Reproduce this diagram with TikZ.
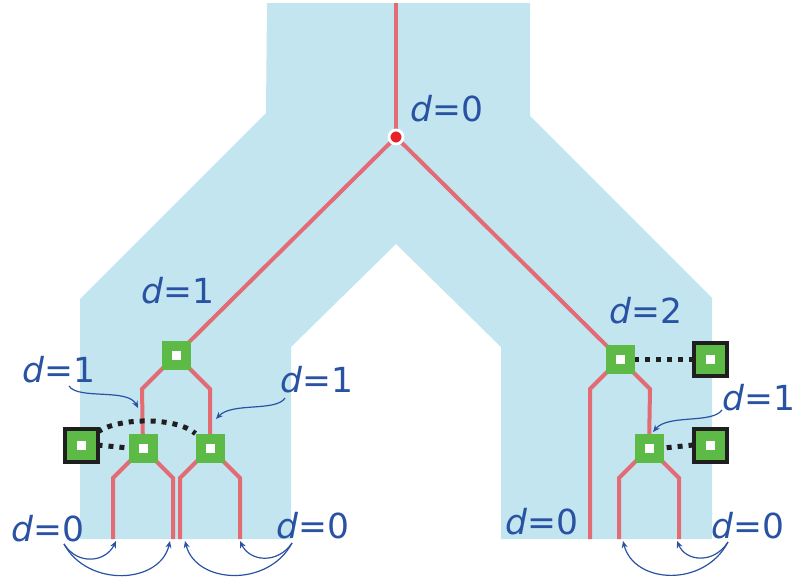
\documentclass[tikz,border=0pt]{standalone}
\usepackage{fontspec}
\setmainfont{DejaVu Sans}
\usetikzlibrary{arrows.meta,backgrounds}
\definecolor{bg}{HTML}{C2E5F0}
\definecolor{wirec}{HTML}{E36B74}
\definecolor{sqc}{HTML}{5DBA47}
\definecolor{lblc}{HTML}{2A52A3}
\definecolor{dotc}{HTML}{E8202A}
\begin{document}
\begin{tikzpicture}[x=1pt,y=-1pt,
  wire/.style={draw=wirec,line width=4pt,line join=miter},
  gsq/.style={fill=sqc,minimum size=29pt,inner sep=0pt,outer sep=0pt,
    path picture={\fill[white] ([xshift=-4.5pt,yshift=-4.5pt]path picture bounding box.center) rectangle ++(9pt,9pt);}},
  bsq/.style={fill=sqc,draw=black!88,line width=4pt,minimum size=33pt,inner sep=0pt,outer sep=0pt,
    path picture={\fill[white] ([xshift=-4.5pt,yshift=-4.5pt]path picture bounding box.center) rectangle ++(9pt,9pt);}},
  rootdot/.style={circle,fill=dotc,draw=white,line width=2.8pt,minimum size=14pt,inner sep=0pt},
  lbl/.style={text=lblc,font=\fontsize{34.5}{40}\selectfont,anchor=base west,inner sep=0pt},
  dots/.style={draw=black!88,line width=5pt,dash pattern=on 5pt off 6pt},
  arr/.style={draw=lblc,line width=1.2pt,-{Stealth[length=7pt,width=6pt]}}]
\useasboundingbox (0,0) rectangle (797,581);

% nodes
\node[rootdot] (R) at (396,137) {};
\node[gsq] (L) at (176,355) {};
\node[gsq] (LA) at (143,448) {};
\node[gsq] (LB) at (210,448) {};
\node[bsq] (BL) at (81,445) {};
\node[gsq] (RT) at (620,359) {};
\node[gsq] (RB) at (649,448) {};
\node[bsq] (BR1) at (710,359) {};
\node[bsq] (BR2) at (710,445) {};
\coordinate (top) at (396,3);

\begin{scope}[on background layer]
  \fill[bg] (267,3) -- (530,3) -- (530,116) -- (712,298) -- (712,539) -- (501,539)
    -- (501,347) -- (396,244) -- (291,347) -- (291,539) -- (80,539) -- (80,299)
    -- (266,113) -- cycle;
  \draw[wire] (top) -- (R.center);
  \draw[wire] (R.center) -- (L.center);
  \draw[wire] (R.center) -- (RT.center);
  \draw[wire] (L.center) -- ++(-34,34) -- (LA.center);
  \draw[wire] (L.center) -- ++(34,34) -- (LB.center);
  \draw[wire] (LA.center) -- ++(-30,30) -- ++(0,61);
  \draw[wire] (LA.center) -- ++(30,30) -- ++(0,61);
  \draw[wire] (LB.center) -- ++(-30,30) -- ++(0,61);
  \draw[wire] (LB.center) -- ++(30,30) -- ++(0,61);
  \draw[wire] (RT.center) -- ++(-30,30) -- ++(0,150);
  \draw[wire] (RT.center) -- ++(30,30) -- (RB.center);
  \draw[wire] (RB.center) -- ++(-30,30) -- ++(0,61);
  \draw[wire] (RB.center) -- ++(30,30) -- ++(0,61);
  \draw[dots] (BL.east) -- (LA.west);
  \draw[dots] ([yshift=13pt]BL.east) .. controls (120,417) and (176,417) .. (LB.north west);
  \draw[dots] (BR1.west) -- (RT.east);
  \draw[dots] (BR2.west) -- (RB.east);
\end{scope}

% labels
\node[lbl] (t0) at (410,121) {{\itshape d}=0};
\node[lbl] (t1) at (141,303) {{\itshape d}=1};
\node[lbl] (t2) at (609,323) {{\itshape d}=2};
\node[lbl] (t3) at (22,382) {{\itshape d}=1};
\node[lbl] (t4) at (280,392) {{\itshape d}=1};
\node[lbl] (t5) at (722,410) {{\itshape d}=1};
\node[lbl] (t6) at (11,541) {{\itshape d}=0};
\node[lbl] (t7) at (276,538) {{\itshape d}=0};
\node[lbl] (t8) at (505,534) {{\itshape d}=0};
\node[lbl] (t9) at (711,538) {{\itshape d}=0};

% arrow end points
\coordinate (s3) at (69,386);  \coordinate (e3) at (138,408);
\coordinate (s4) at (285,398); \coordinate (e4) at (216,419);
\coordinate (s5) at (722,410); \coordinate (e5) at (653,432);
\coordinate (s6) at (64,544);  \coordinate (e6a) at (116,541); \coordinate (e6b) at (170,541);
\coordinate (s7) at (292,543); \coordinate (e7a) at (240,541); \coordinate (e7b) at (185,541);
\coordinate (s9) at (728,542); \coordinate (e9a) at (677,541); \coordinate (e9b) at (623,541);

\draw[arr] (s3) .. controls (78,400) and (128,388) .. (e3);
\draw[arr] (s4) .. controls (276,412) and (232,402) .. (e4);
\draw[arr] (s5) .. controls (712,424) and (668,414) .. (e5);
\draw[arr] (s6) .. controls (78,566) and (106,562) .. (e6a);
\draw[arr] (s6) .. controls (88,588) and (160,584) .. (e6b);
\draw[arr] (s7) .. controls (278,564) and (250,562) .. (e7a);
\draw[arr] (s7) .. controls (268,588) and (196,584) .. (e7b);
\draw[arr] (s9) .. controls (714,564) and (686,562) .. (e9a);
\draw[arr] (s9) .. controls (704,588) and (634,584) .. (e9b);
\end{tikzpicture}
\end{document}
